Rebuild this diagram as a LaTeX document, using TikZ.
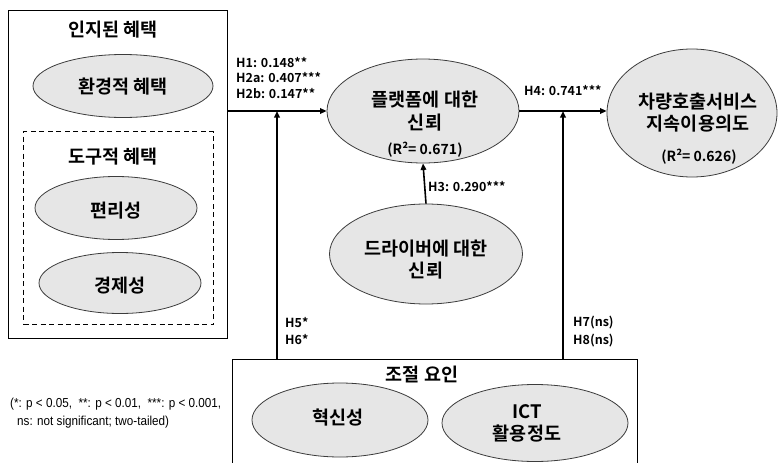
\documentclass[tikz,border=0pt]{standalone}
\usepackage{fontspec}
\setmainfont{Noto Sans CJK KR}[BoldFont={Noto Sans CJK KR Bold}]
\newfontfamily\fnfont{Liberation Sans}[FakeStretch=0.9]
\usetikzlibrary{shapes.geometric,arrows.meta}
\definecolor{ellfill}{RGB}{230,230,230}
\definecolor{ellline}{RGB}{60,60,60}
\tikzset{
  oval/.style={ellipse, draw=ellline, line width=0.8pt, fill=ellfill, inner sep=0pt},
  boxstyle/.style={draw=black, line width=1.3pt, inner sep=0pt, fill=none},
  dbox/.style={draw=black, line width=1.2pt, dash pattern=on 5pt off 3.5pt, inner sep=0pt},
  kbig/.style={font=\bfseries\fontsize{18.5}{22}\selectfont, inner sep=0pt},
  klab/.style={font=\bfseries\fontsize{12.5}{15}\selectfont, inner sep=0pt, anchor=west},
  rsq/.style={font=\bfseries\fontsize{14}{17}\selectfont, inner sep=0pt},
  fn/.style={font=\fnfont\fontsize{13}{15}\selectfont, inner sep=0pt, anchor=west},
  arr/.style={line width=1.6pt, -{Triangle[length=6.5pt,width=5.5pt]}},
}
\begin{document}
\begin{tikzpicture}[x=1pt,y=-1pt]
\useasboundingbox (0,0) rectangle (780,463);
\fill[white] (0,0) rectangle (780,463);
\clip (0,0) rectangle (780,463);

% left box
\node[boxstyle, minimum width=219pt, minimum height=328pt, anchor=north west] (lbox) at (8,10) {};
\node[kbig] (t1) at (113,30) {인지된 혜택};
\node[oval, minimum width=180pt, minimum height=63pt] (env) at (123,86) {};
\node[kbig] (envt) at (123,87) {환경적 혜택};
\node[dbox, minimum width=190pt, minimum height=193pt, anchor=north west] (dbx) at (23,131) {};
\node[kbig] (t2) at (113,157) {도구적 혜택};
\node[oval, minimum width=162pt, minimum height=63pt] (conv) at (116,208) {};
\node[kbig] (convt) at (116,211) {편리성};
\node[oval, minimum width=162pt, minimum height=61pt] (econ) at (120,283) {};
\node[kbig] (econt) at (120,286) {경제성};

% platform trust
\node[oval, minimum width=192pt, minimum height=104pt] (plat) at (423,111) {};
\node[kbig] (platt1) at (425,100) {플랫폼에 대한};
\node[kbig] (platt2) at (425,123) {신뢰};
\node[rsq] (platr) at (425,150) {(R²= 0.671)};

% driver trust
\node[oval, minimum width=193pt, minimum height=100pt] (drv) at (426,254) {};
\node[kbig] (drvt1) at (426,249) {드라이버에 대한};
\node[kbig] (drvt2) at (426,271) {신뢰};

% continuance intention
\node[oval, minimum width=170pt, minimum height=128pt] (veh) at (692,113) {};
\node[kbig] (veht1) at (698,102) {차량호출서비스};
\node[kbig] (veht2) at (698,124) {지속이용의도};
\node[rsq] (vehr) at (699,157) {(R²= 0.626)};

% moderators box
\node[boxstyle, minimum width=405pt, minimum height=130pt, anchor=north west] (mbox) at (232,359) {};
\node[kbig] (t3) at (422,374) {조절 요인};
\node[oval, minimum width=176pt, minimum height=74pt] (inno) at (340,420) {};
\node[kbig] (innot) at (338,418) {혁신성};
\node[oval, minimum width=186pt, minimum height=77pt] (ict) at (535,423) {};
\node[kbig] (ictt1) at (527,412) {ICT};
\node[kbig] (ictt2) at (527,434) {활용정도};

% connectors
\draw[arr] (lbox.east |- plat.west) -- (plat.west);
\draw[arr] (plat.east) -- (plat.east -| veh.west);
\draw[arr] (drv.north) -- (plat.south);
\coordinate (j1) at (277,111);
\coordinate (j2) at (563,111);
\draw[arr] (mbox.north -| j1) -- (j1);
\draw[arr] (mbox.north -| j2) -- (j2);

% labels
\node[klab] (h1) at (236,63) {H1: 0.148**};
\node[klab] (h2a) at (236,78) {H2a: 0.407***};
\node[klab] (h2b) at (236,94) {H2b: 0.147**};
\node[klab] (h4) at (524,91) {H4: 0.741***};
\node[klab] (h3) at (428,187) {H3: 0.290***};
\node[klab] (h5) at (285,323) {H5*};
\node[klab] (h6) at (285,340) {H6*};
\node[klab] (h7) at (573,323) {H7(ns)};
\node[klab] (h8) at (573,341) {H8(ns)};

% footnote
\node[fn] (fn1) at (10,404) {(*: p < 0.05,\ \ **: p < 0.01,\ \ ***: p < 0.001,};
\node[fn] (fn2) at (17,422) {ns: not significant; two-tailed)};
\end{tikzpicture}
\end{document}
